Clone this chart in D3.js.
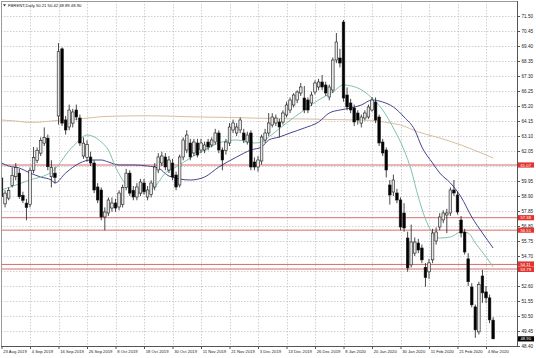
<!DOCTYPE html>
<html>
<head>
<meta charset="utf-8">
<script src="https://cdn.jsdelivr.net/npm/d3@7"></script>
<style>
	html, body { margin: 0; padding: 0; background: #fff; }
	svg { display: block; font-family: "Liberation Sans", Arial, sans-serif; }
</style>
</head>
<body>
<div id="chart"></div>
<script>
// trading days shown on the chart
const dates = [
	"2019-08-23","2019-08-26","2019-08-27","2019-08-28","2019-08-29","2019-08-30",
	"2019-09-02","2019-09-03","2019-09-04","2019-09-05","2019-09-06","2019-09-09","2019-09-10","2019-09-11","2019-09-12","2019-09-13",
	"2019-09-16","2019-09-17","2019-09-18","2019-09-19","2019-09-20","2019-09-23","2019-09-24","2019-09-25","2019-09-26","2019-09-27","2019-09-30",
	"2019-10-01","2019-10-02","2019-10-03","2019-10-04","2019-10-07","2019-10-08","2019-10-09","2019-10-10","2019-10-11","2019-10-14","2019-10-15",
	"2019-10-16","2019-10-17","2019-10-18","2019-10-21","2019-10-22","2019-10-23","2019-10-24","2019-10-25","2019-10-28","2019-10-29","2019-10-30","2019-10-31",
	"2019-11-01","2019-11-04","2019-11-05","2019-11-06","2019-11-07","2019-11-08","2019-11-11","2019-11-12","2019-11-13","2019-11-14","2019-11-15",
	"2019-11-18","2019-11-19","2019-11-20","2019-11-21","2019-11-22","2019-11-25","2019-11-26","2019-11-27","2019-11-28","2019-11-29",
	"2019-12-02","2019-12-03","2019-12-04","2019-12-05","2019-12-06","2019-12-09","2019-12-10","2019-12-11","2019-12-12","2019-12-13",
	"2019-12-16","2019-12-17","2019-12-18","2019-12-19","2019-12-20","2019-12-23","2019-12-24","2019-12-26","2019-12-27","2019-12-30","2019-12-31",
	"2020-01-02","2020-01-03","2020-01-06","2020-01-07","2020-01-08","2020-01-09","2020-01-10","2020-01-13","2020-01-14","2020-01-15","2020-01-16",
	"2020-01-17","2020-01-20","2020-01-21","2020-01-22","2020-01-23","2020-01-24","2020-01-27","2020-01-28","2020-01-29","2020-01-30","2020-01-31",
	"2020-02-03","2020-02-04","2020-02-05","2020-02-06","2020-02-07","2020-02-10","2020-02-11","2020-02-12","2020-02-13","2020-02-14",
	"2020-02-17","2020-02-18","2020-02-19","2020-02-20","2020-02-21","2020-02-24","2020-02-25","2020-02-26","2020-02-27","2020-02-28",
	"2020-03-02","2020-03-03","2020-03-04","2020-03-05","2020-03-06"
];

const open = [
	60.16,58.35,58.75,59.65,60.25,60.50,58.95,58.40,58.30,60.70,
	61.40,61.90,62.60,62.95,60.25,60.50,64.50,69.20,64.22,63.73,
	64.00,64.92,64.36,61.70,61.60,61.63,61.21,59.53,59.32,57.43,
	57.71,58.06,58.41,58.13,58.30,59.50,60.50,59.30,58.83,59.10,
	59.81,58.83,59.00,59.53,60.72,61.21,61.63,60.72,61.21,60.37,
	59.67,61.63,62.12,62.61,61.91,62.61,62.12,62.12,62.68,62.47,
	62.68,63.31,62.12,62.10,62.61,63.52,63.31,63.52,63.31,62.68,
	63.31,61.28,60.93,61.35,62.82,63.31,63.87,64.01,64.08,64.08,
	64.57,64.92,65.27,65.62,66.11,65.76,65.62,65.41,66.18,66.53,
	66.88,66.67,65.83,66.32,68.42,68.56,71.08,65.97,65.41,65.06,
	64.71,64.00,64.36,64.43,64.92,65.48,64.43,62.68,62.12,59.67,
	59.18,59.11,58.62,57.71,55.96,54.08,54.90,55.61,55.26,53.90,
	53.59,54.43,55.75,56.73,57.22,57.57,57.71,59.32,58.97,57.22,
	56.38,54.50,52.53,51.14,49.39,53.30,52.19,51.77,50.21
];
const high = [
	60.45,59.30,59.50,60.90,61.20,60.80,59.20,58.70,60.90,62.33,
	62.30,63.00,63.70,63.20,61.40,60.95,69.60,69.30,64.50,65.30,
	65.00,65.30,64.60,63.00,62.80,62.00,61.40,59.80,59.50,58.10,
	58.80,58.80,58.70,59.30,59.70,60.80,60.70,59.60,59.80,60.10,
	60.10,59.60,60.00,61.20,61.90,62.00,61.90,61.70,61.50,60.60,
	61.80,63.00,63.50,62.90,62.90,62.90,62.90,62.70,62.90,63.00,
	63.60,63.50,62.30,62.90,64.00,64.25,64.00,64.40,63.60,63.40,
	63.50,61.60,61.70,63.20,63.60,64.71,64.70,64.60,64.30,64.90,
	65.50,65.80,66.10,66.30,66.81,66.60,65.80,66.20,67.00,67.10,
	67.37,66.90,66.70,68.60,70.31,69.20,71.22,66.50,65.70,65.30,
	64.90,64.60,64.90,65.30,65.83,65.80,64.60,62.90,62.30,60.02,
	60.40,59.40,58.80,58.40,56.40,56.90,56.00,55.90,55.50,54.20,
	54.50,56.60,56.70,57.70,57.90,58.00,59.50,60.02,59.20,57.50,
	56.60,54.90,52.80,51.30,52.90,53.73,52.60,52.00,50.42
];
const low = [
	58.55,58.10,58.60,59.50,60.00,58.70,58.40,57.20,58.10,60.50,
	61.20,61.70,62.40,60.70,59.50,59.80,63.90,63.80,63.20,63.50,
	63.70,64.20,62.40,61.50,61.30,61.00,59.10,58.40,57.20,56.50,
	57.50,57.80,57.80,57.90,58.10,59.30,58.90,58.60,58.60,58.90,
	59.00,58.60,58.80,59.30,60.50,61.00,60.70,60.50,60.00,59.30,
	59.50,61.40,61.90,61.40,61.70,61.60,61.90,61.90,62.10,62.30,
	62.50,61.90,60.70,61.80,62.40,63.30,63.10,63.30,62.60,62.50,
	60.70,60.70,60.60,61.10,62.60,63.10,63.70,63.80,63.00,63.90,
	64.40,64.70,65.10,65.40,65.90,64.70,64.70,65.20,66.00,66.30,
	66.30,65.90,65.60,66.10,68.20,67.90,65.50,64.90,64.70,63.80,
	63.90,63.70,64.20,64.30,64.80,64.00,62.40,61.70,60.20,58.30,
	58.90,58.40,56.50,56.40,53.60,53.90,54.70,54.90,54.20,52.55,
	53.10,54.20,55.50,56.50,57.00,56.30,57.50,58.90,57.60,56.00,
	54.80,52.60,51.10,48.97,49.20,51.42,51.40,50.00,48.89
];
const close = [
	58.85,59.10,59.30,60.35,60.90,58.85,58.60,58.10,60.70,61.60,
	62.10,62.80,63.00,60.95,60.90,60.20,69.00,64.00,63.52,64.92,
	64.78,64.43,62.61,62.60,62.50,61.21,59.32,58.62,57.43,57.78,
	58.62,58.41,58.06,59.11,59.50,60.50,59.10,58.83,59.53,59.88,
	59.20,59.32,59.81,60.93,61.63,61.70,60.93,61.42,60.23,59.53,
	61.63,62.82,63.17,61.63,62.68,61.77,62.61,62.47,62.33,62.82,
	63.31,62.12,61.42,62.68,63.73,64.01,63.73,64.22,62.82,63.17,
	60.93,60.93,61.42,63.03,63.31,64.01,64.43,64.36,63.73,64.71,
	65.27,65.62,65.97,66.18,66.53,64.92,64.92,65.97,66.81,66.88,
	66.53,66.11,66.53,68.42,69.68,68.21,65.76,65.13,64.92,64.08,
	64.22,64.43,64.71,65.13,65.62,64.22,62.61,61.91,60.72,58.97,
	60.02,58.62,56.73,56.66,53.87,55.68,55.68,55.12,54.43,53.20,
	54.22,56.31,56.38,57.43,57.71,57.71,59.32,59.11,57.78,56.31,
	54.98,52.90,51.28,49.53,52.70,52.12,51.77,50.23,48.90
];

// moving averages: [bar index, price]
const maFast = [
	[0,59.32],[8,60.02],[14,60.58],[16,61.07],[18,61.77],[21,62.61],[24,63.17],[28,62.68],[30,62.12],
	[32,60.93],[35,59.67],[37,59.18],[40,59.11],[43,59.53],[46,60.51],[49,60.93],[53,61.56],[57,62.12],
	[61,62.61],[66,62.82],[71,62.61],[73,62.68],[75,63.03],[80,64.01],[85,64.92],[89,65.62],[93,66.18],
	[96,66.67],[100,66.46],[104,65.76],[107,64.92],[110,63.66],[113,62.12],[115,60.72],[117,58.83],
	[120,56.73],[123,55.96],[126,56.03],[129,56.38],[131,56.31],[133,55.61],[136,54.64],[138,53.94]
];
const maMid = [
	[0,61.21],[2,61.00],[5,60.86],[8,60.51],[11,60.23],[14,60.02],[15,59.81],[18,60.51],[22,61.21],
	[25,61.42],[28,61.42],[30,61.28],[33,61.07],[37,61.07],[41,61.00],[44,60.86],[47,60.30],[53,60.02],
	[57,60.23],[61,60.93],[66,61.63],[70,62.12],[73,62.33],[75,62.82],[78,63.03],[81,63.31],[85,63.66],
	[89,64.08],[92,64.71],[95,64.92],[98,65.06],[101,65.27],[104,65.62],[107,65.48],[110,65.13],
	[113,64.43],[116,63.52],[118,62.33],[121,61.21],[123,60.51],[126,59.81],[129,58.83],[132,57.43],
	[135,56.31],[138,55.26]
];
const maSlow = [
	[0,64.22],[4,64.15],[8,64.05],[12,64.10],[16,64.20],[22,64.30],[28,64.45],[34,64.50],[40,64.52],
	[46,64.50],[52,64.45],[58,64.42],[64,64.40],[70,64.36],[76,64.33],[82,64.30],[88,64.28],[94,64.25],
	[100,64.22],[104,64.20],[108,64.05],[112,63.87],[117,63.38],[123,62.96],[129,62.47],[134,61.98],[138,61.56]
];

const priceTicks = [71.50,70.45,69.40,68.35,67.30,66.25,65.20,64.15,63.10,62.05,61.00,59.95,58.90,
	57.85,56.80,55.75,54.70,53.65,52.60,51.55,50.50,49.45,48.40];
const levels = [61.07, 57.38, 56.51, 54.11, 53.79];
const lastPrice = 48.90;
const title = "FBRENT,Daily 50.21 50.42 48.89 48.90";

let width = 536;
let height = 358;
let plot = { left: 1, top: 1, right: 517, bottom: 346 };

let x = d3.scalePoint().domain(dates).range([1.5, 1.5 + 3.5625 * (dates.length - 1)]);
let y = d3.scaleLinear().domain([48.40, 71.50]).range([346, 16]);

let parse = d3.timeParse("%Y-%m-%d");
let dateFormat = d3.timeFormat("%-d %b %Y");
let priceFormat = d3.format(".2f");

let bars = dates.map((d, i) => ({ date: d, o: open[i], h: high[i], l: low[i], c: close[i] }));

let svg = d3.select("#chart")
	.append("svg")
	.attr("width", width)
	.attr("height", height);

svg.append("defs").append("clipPath")
	.attr("id", "plot-clip")
	.append("rect")
	.attr("x", plot.left)
	.attr("y", plot.top)
	.attr("width", plot.right - plot.left)
	.attr("height", plot.bottom - plot.top);

let xTicks = dates.filter((d, i) => i % 8 === 0);

// grid
let grid = svg.append("g").attr("clip-path", "url(#plot-clip)");
grid.selectAll(".hgrid")
	.data(priceTicks)
	.enter()
	.append("line")
	.attr("x1", plot.left)
	.attr("x2", plot.right)
	.attr("y1", d => Math.round(y(d)) + 0.5)
	.attr("y2", d => Math.round(y(d)) + 0.5)
	.attr("stroke", "#c4c4c4")
	.attr("stroke-width", 0.8)
	.attr("stroke-dasharray", "1.5,1.5");
grid.selectAll(".vgrid")
	.data(xTicks.slice(1))
	.enter()
	.append("line")
	.attr("x1", d => Math.round(x(d)) + 0.5)
	.attr("x2", d => Math.round(x(d)) + 0.5)
	.attr("y1", plot.top)
	.attr("y2", plot.bottom)
	.attr("stroke", "#c4c4c4")
	.attr("stroke-width", 0.8)
	.attr("stroke-dasharray", "1.5,1.5");

let chart = svg.append("g").attr("clip-path", "url(#plot-clip)");

// horizontal levels
chart.selectAll(".level")
	.data(levels)
	.enter()
	.append("line")
	.attr("x1", plot.left)
	.attr("x2", plot.right)
	.attr("y1", d => y(d))
	.attr("y2", d => y(d))
	.attr("stroke", "#d96b6b")
	.attr("stroke-width", 1);

// moving averages
let maLine = d3.line()
	.x(d => x(dates[d[0]]))
	.y(d => y(d[1]))
	.curve(d3.curveMonotoneX);

chart.append("path").datum(maSlow)
	.attr("d", maLine).attr("fill", "none")
	.attr("stroke", "#d8bf9f").attr("stroke-width", 1);
chart.append("path").datum(maMid)
	.attr("d", maLine).attr("fill", "none")
	.attr("stroke", "#45458f").attr("stroke-width", 1);
chart.append("path").datum(maFast)
	.attr("d", maLine).attr("fill", "none")
	.attr("stroke", "#82c2ab").attr("stroke-width", 1);

// candles
let body_width = 2.6;
chart.selectAll(".wick")
	.data(bars)
	.enter()
	.append("line")
	.attr("x1", d => x(d.date))
	.attr("x2", d => x(d.date))
	.attr("y1", d => y(d.h))
	.attr("y2", d => y(d.l))
	.attr("stroke", "#1a1a1a")
	.attr("stroke-width", 0.8);

chart.selectAll(".body")
	.data(bars)
	.enter()
	.append("rect")
	.attr("x", d => x(d.date) - body_width / 2)
	.attr("y", d => y(Math.max(d.o, d.c)))
	.attr("width", body_width)
	.attr("height", d => Math.max(0.8, Math.abs(y(d.o) - y(d.c))))
	.attr("fill", d => (d.c >= d.o ? "#e6e6e6" : "#000"))
	.attr("stroke", "#1a1a1a")
	.attr("stroke-width", 0.6);

// frame
svg.append("rect")
	.attr("x", plot.left + 0.5)
	.attr("y", plot.top + 0.5)
	.attr("width", plot.right - plot.left)
	.attr("height", plot.bottom - plot.top)
	.attr("fill", "none")
	.attr("stroke", "#9a9a9a")
	.attr("stroke-width", 1);

// tags on the price axis (levels in red, last price in black)
let tagData = levels.map(v => ({ v: v, bg: "#e0342f" })).concat([{ v: lastPrice, bg: "#000" }]);
// MT4 hides the axis labels that sit under a tag
let hidden = priceTicks.filter(t => tagData.some(d => Math.abs(y(d.v) - y(t)) < 4));

// price axis
svg.append("g")
	.attr("transform", "translate(" + (plot.right + 0.5) + ",0)")
	.call(d3.axisRight(y).tickValues(priceTicks).tickFormat(priceFormat).tickSizeInner(2.5).tickSizeOuter(0).tickPadding(1.5))
	.call(g => g.select(".domain").remove())
	.call(g => g.selectAll(".tick line").attr("stroke", "#555"))
	.call(g => g.selectAll(".tick text")
		.attr("font-size", 4.6)
		.attr("font-family", "Liberation Sans, Arial, sans-serif")
		.attr("fill", "#222")
		.style("display", d => (hidden.includes(d) ? "none" : null)));

svg.append("line")
	.attr("x1", plot.right + 0.5).attr("x2", plot.right + 0.5)
	.attr("y1", plot.top).attr("y2", plot.bottom + 1)
	.attr("stroke", "#555").attr("stroke-width", 1);

// the two close levels are stacked one above the other
let tagY = d => y(d.v) + (d.v === 54.11 ? -0.4 : d.v === 53.79 ? 0.4 : 0);
let tags = svg.append("g");
tags.selectAll("rect")
	.data(tagData)
	.enter()
	.append("rect")
	.attr("x", plot.right + 1)
	.attr("y", d => tagY(d) - 2.6)
	.attr("width", 16)
	.attr("height", 5.2)
	.attr("fill", d => d.bg);
tags.selectAll("text")
	.data(tagData)
	.enter()
	.append("text")
	.attr("x", plot.right + 3.5)
	.attr("y", d => tagY(d) + 1.5)
	.attr("font-size", 4.2)
	.attr("fill", "#fff")
	.text(d => priceFormat(d.v));

// date axis
svg.append("g")
	.attr("transform", "translate(0," + (plot.bottom + 0.5) + ")")
	.call(d3.axisBottom(x).tickValues(xTicks).tickFormat(d => dateFormat(parse(d))).tickSizeInner(2.5).tickSizeOuter(0).tickPadding(1.5))
	.call(g => g.select(".domain").remove())
	.call(g => g.selectAll(".tick line").attr("stroke", "#555"))
	.call(g => g.selectAll(".tick text")
		.attr("text-anchor", "start")
		.attr("x", 1.2)
		.attr("font-size", 4.2)
		.attr("font-family", "Liberation Sans, Arial, sans-serif")
		.attr("fill", "#222"));

svg.append("line")
	.attr("x1", plot.left).attr("x2", plot.right + 1)
	.attr("y1", plot.bottom + 0.5).attr("y2", plot.bottom + 0.5)
	.attr("stroke", "#555").attr("stroke-width", 1);

// title
svg.append("path")
	.attr("d", "M3,4.2 L6,4.2 L4.5,6.4 Z")
	.attr("fill", "#333");
svg.append("text")
	.attr("x", 8)
	.attr("y", 6.8)
	.attr("font-size", 4.2)
	.attr("fill", "#111")
	.text(title);
</script>
</body>
</html>
